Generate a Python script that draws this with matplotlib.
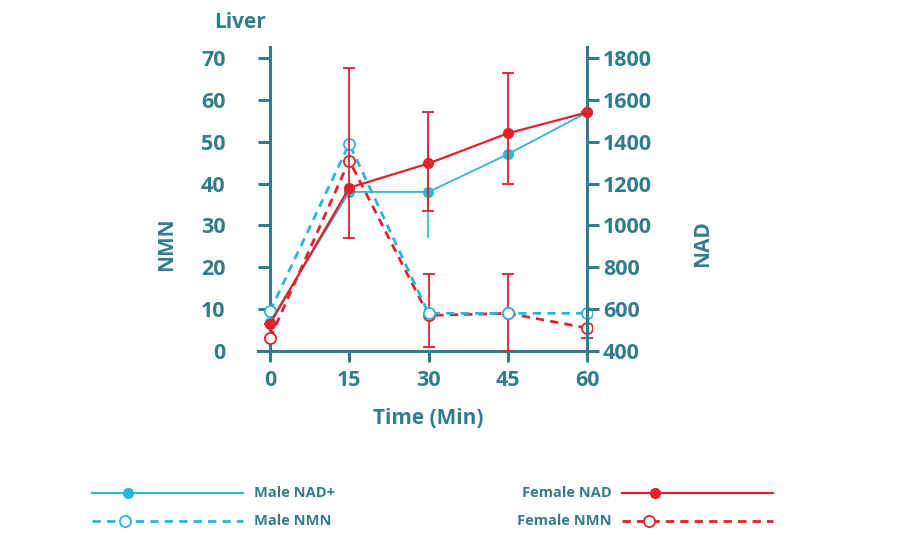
import matplotlib
matplotlib.use("Agg")
import matplotlib.pyplot as plt
from matplotlib.lines import Line2D

plt.rcParams['font.family'] = ['Open Sans', 'DejaVu Sans']

# ---- data ----
time = [0, 15, 30, 45, 60]
male_nad = [540, 1160, 1160, 1340, 1540]          # NAD axis
male_nad_err = [0, 0, 220, 0, 0]
female_nad = [530, 1180, 1296, 1440, 1540]        # NAD axis
female_nad_lo = [0, 240, 226, 240, 0]
female_nad_hi = [0, 570, 244, 290, 0]
male_nmn = [9.5, 49.5, 9.0, 9.0, 9.0]             # NMN axis
female_nmn = [3.0, 45.5, 8.5, 9.0, 5.5]           # NMN axis
female_nmn_lo = [0, 0, 7.5, 9.0, 2.5]
female_nmn_hi = [0, 0, 10.0, 9.5, 0]
nmn_ticks = [0, 10, 20, 30, 40, 50, 60, 70]
nad_ticks = [400, 600, 800, 1000, 1200, 1400, 1600, 1800]
legend_labels = ['Male NAD+', 'Male NMN', 'Female NAD', 'Female NMN']

TEAL = '#327d8d'
CYAN = '#2bb5d8'
RED = '#e4202b'

W, H = 898, 544
fig = plt.figure(figsize=(W / 100, H / 100), dpi=100)

# axes placement (pixels)
x0px, xs = 270, (587 - 270) / 60.0
y0px, ys = 351, (351 - 58) / 70.0
xlim = (-2.2, 61.0)
ylim = (-1.7, 72.6)
left = (x0px + xlim[0] * xs) / W
right = (x0px + xlim[1] * xs) / W
bottom = (H - (y0px - ylim[0] * ys)) / H
top = (H - (y0px - ylim[1] * ys)) / H
ax = fig.add_axes([left, bottom, right - left, top - bottom])
ax.set_xlim(*xlim)
ax.set_ylim(*ylim)
ax.patch.set_alpha(0)

ax2 = ax.twinx()
ax2.set_ylim(400 + 20 * ylim[0], 400 + 20 * ylim[1])

# spines
for s in ['top', 'right']:
    ax.spines[s].set_visible(False)
for s in ['top', 'left', 'bottom']:
    ax2.spines[s].set_visible(False)
ax.spines['left'].set_position(('data', 0))
ax.spines['bottom'].set_position(('data', 0))
ax2.spines['right'].set_position(('data', 60))
for a, s in [(ax, 'left'), (ax, 'bottom'), (ax2, 'right')]:
    a.spines[s].set_color(TEAL)
    a.spines[s].set_linewidth(2.2)

tick_font = dict(fontsize=15.5, fontweight='bold', color=TEAL)
ax.set_yticks(nmn_ticks)
ax.set_yticklabels([str(v) for v in nmn_ticks], **tick_font)
ax.set_xticks(time)
ax.set_xticklabels([str(v) for v in time], **tick_font)
ax2.set_yticks(nad_ticks)
ax2.set_yticklabels([str(v) for v in nad_ticks], **tick_font)
ax.tick_params(axis='y', direction='out', length=9, width=2.2, color=TEAL, pad=23)
ax.tick_params(axis='x', direction='out', length=8, width=2.2, color=TEAL, pad=6)
ax2.tick_params(axis='y', direction='out', length=8.5, width=2.2, color=TEAL, pad=3)

# NMN series (left axis)
ax.errorbar(time, female_nmn, yerr=[female_nmn_lo, female_nmn_hi], color=RED,
            lw=2.0, ls=(0, (3, 2.2)), marker='o', ms=8, mfc='white', mec=RED,
            mew=1.3, ecolor=RED, elinewidth=1.3, capsize=4, capthick=1.3, zorder=3)
ax.plot(time, male_nmn, color=CYAN, lw=2.0, ls=(0, (3, 2.2)), marker='o', ms=8,
        mfc='white', mec=CYAN, mew=1.3, zorder=4)

# NAD series (right axis)
ax2.errorbar(time, male_nad, yerr=male_nad_err, color=CYAN, lw=1.3, marker='o', ms=7,
             mfc=CYAN, mec=CYAN, ecolor=CYAN, elinewidth=1.2, capsize=0, zorder=3)
ax2.errorbar(time, female_nad, yerr=[female_nad_lo, female_nad_hi], color=RED, lw=1.6,
             marker='o', ms=7, mfc=RED, mec=RED, ecolor=RED, elinewidth=1.3,
             capsize=4, capthick=1.3, zorder=4)

# labels
lab_font = dict(fontsize=15, fontweight='bold', color=TEAL)
fig.text(214 / W, 1 - 22 / H, 'Liver', ha='left', va='center', **lab_font)
fig.text(167 / W, 1 - 244 / H, 'NMN', rotation=90, ha='center', va='center', **lab_font)
fig.text(703 / W, 1 - 244 / H, 'NAD', rotation=90, ha='center', va='center', **lab_font)
fig.text(428 / W, 1 - 418 / H, 'Time (Min)', ha='center', va='center', **lab_font)

# custom legend (figure pixel coordinates)
lax = fig.add_axes([0, 0, 1, 1])
lax.set_xlim(0, W)
lax.set_ylim(H, 0)
lax.axis('off')
leg_font = dict(fontsize=10.5, fontweight='bold', color=TEAL, va='center')
lax.add_line(Line2D([92, 243], [493, 493], color=CYAN, lw=1.5))
lax.add_line(Line2D([128], [493], color=CYAN, marker='o', ms=7))
lax.text(254, 493, legend_labels[0], ha='left', **leg_font)
lax.add_line(Line2D([92, 243], [521, 521], color=CYAN, lw=2.0, ls=(0, (3, 2.2))))
lax.add_line(Line2D([125], [521], color=CYAN, marker='o', ms=8, mfc='white', mew=1.3))
lax.text(254, 521, legend_labels[1], ha='left', **leg_font)
lax.add_line(Line2D([622, 773], [493, 493], color=RED, lw=1.6))
lax.add_line(Line2D([655], [493], color=RED, marker='o', ms=7))
lax.text(612, 493, legend_labels[2], ha='right', **leg_font)
lax.add_line(Line2D([622, 773], [521, 521], color=RED, lw=2.0, ls=(0, (3, 2.2))))
lax.add_line(Line2D([649], [521], color=RED, marker='o', ms=8, mfc='white', mew=1.3))
lax.text(612, 521, legend_labels[3], ha='right', **leg_font)

fig.savefig('out.png', dpi=100)
